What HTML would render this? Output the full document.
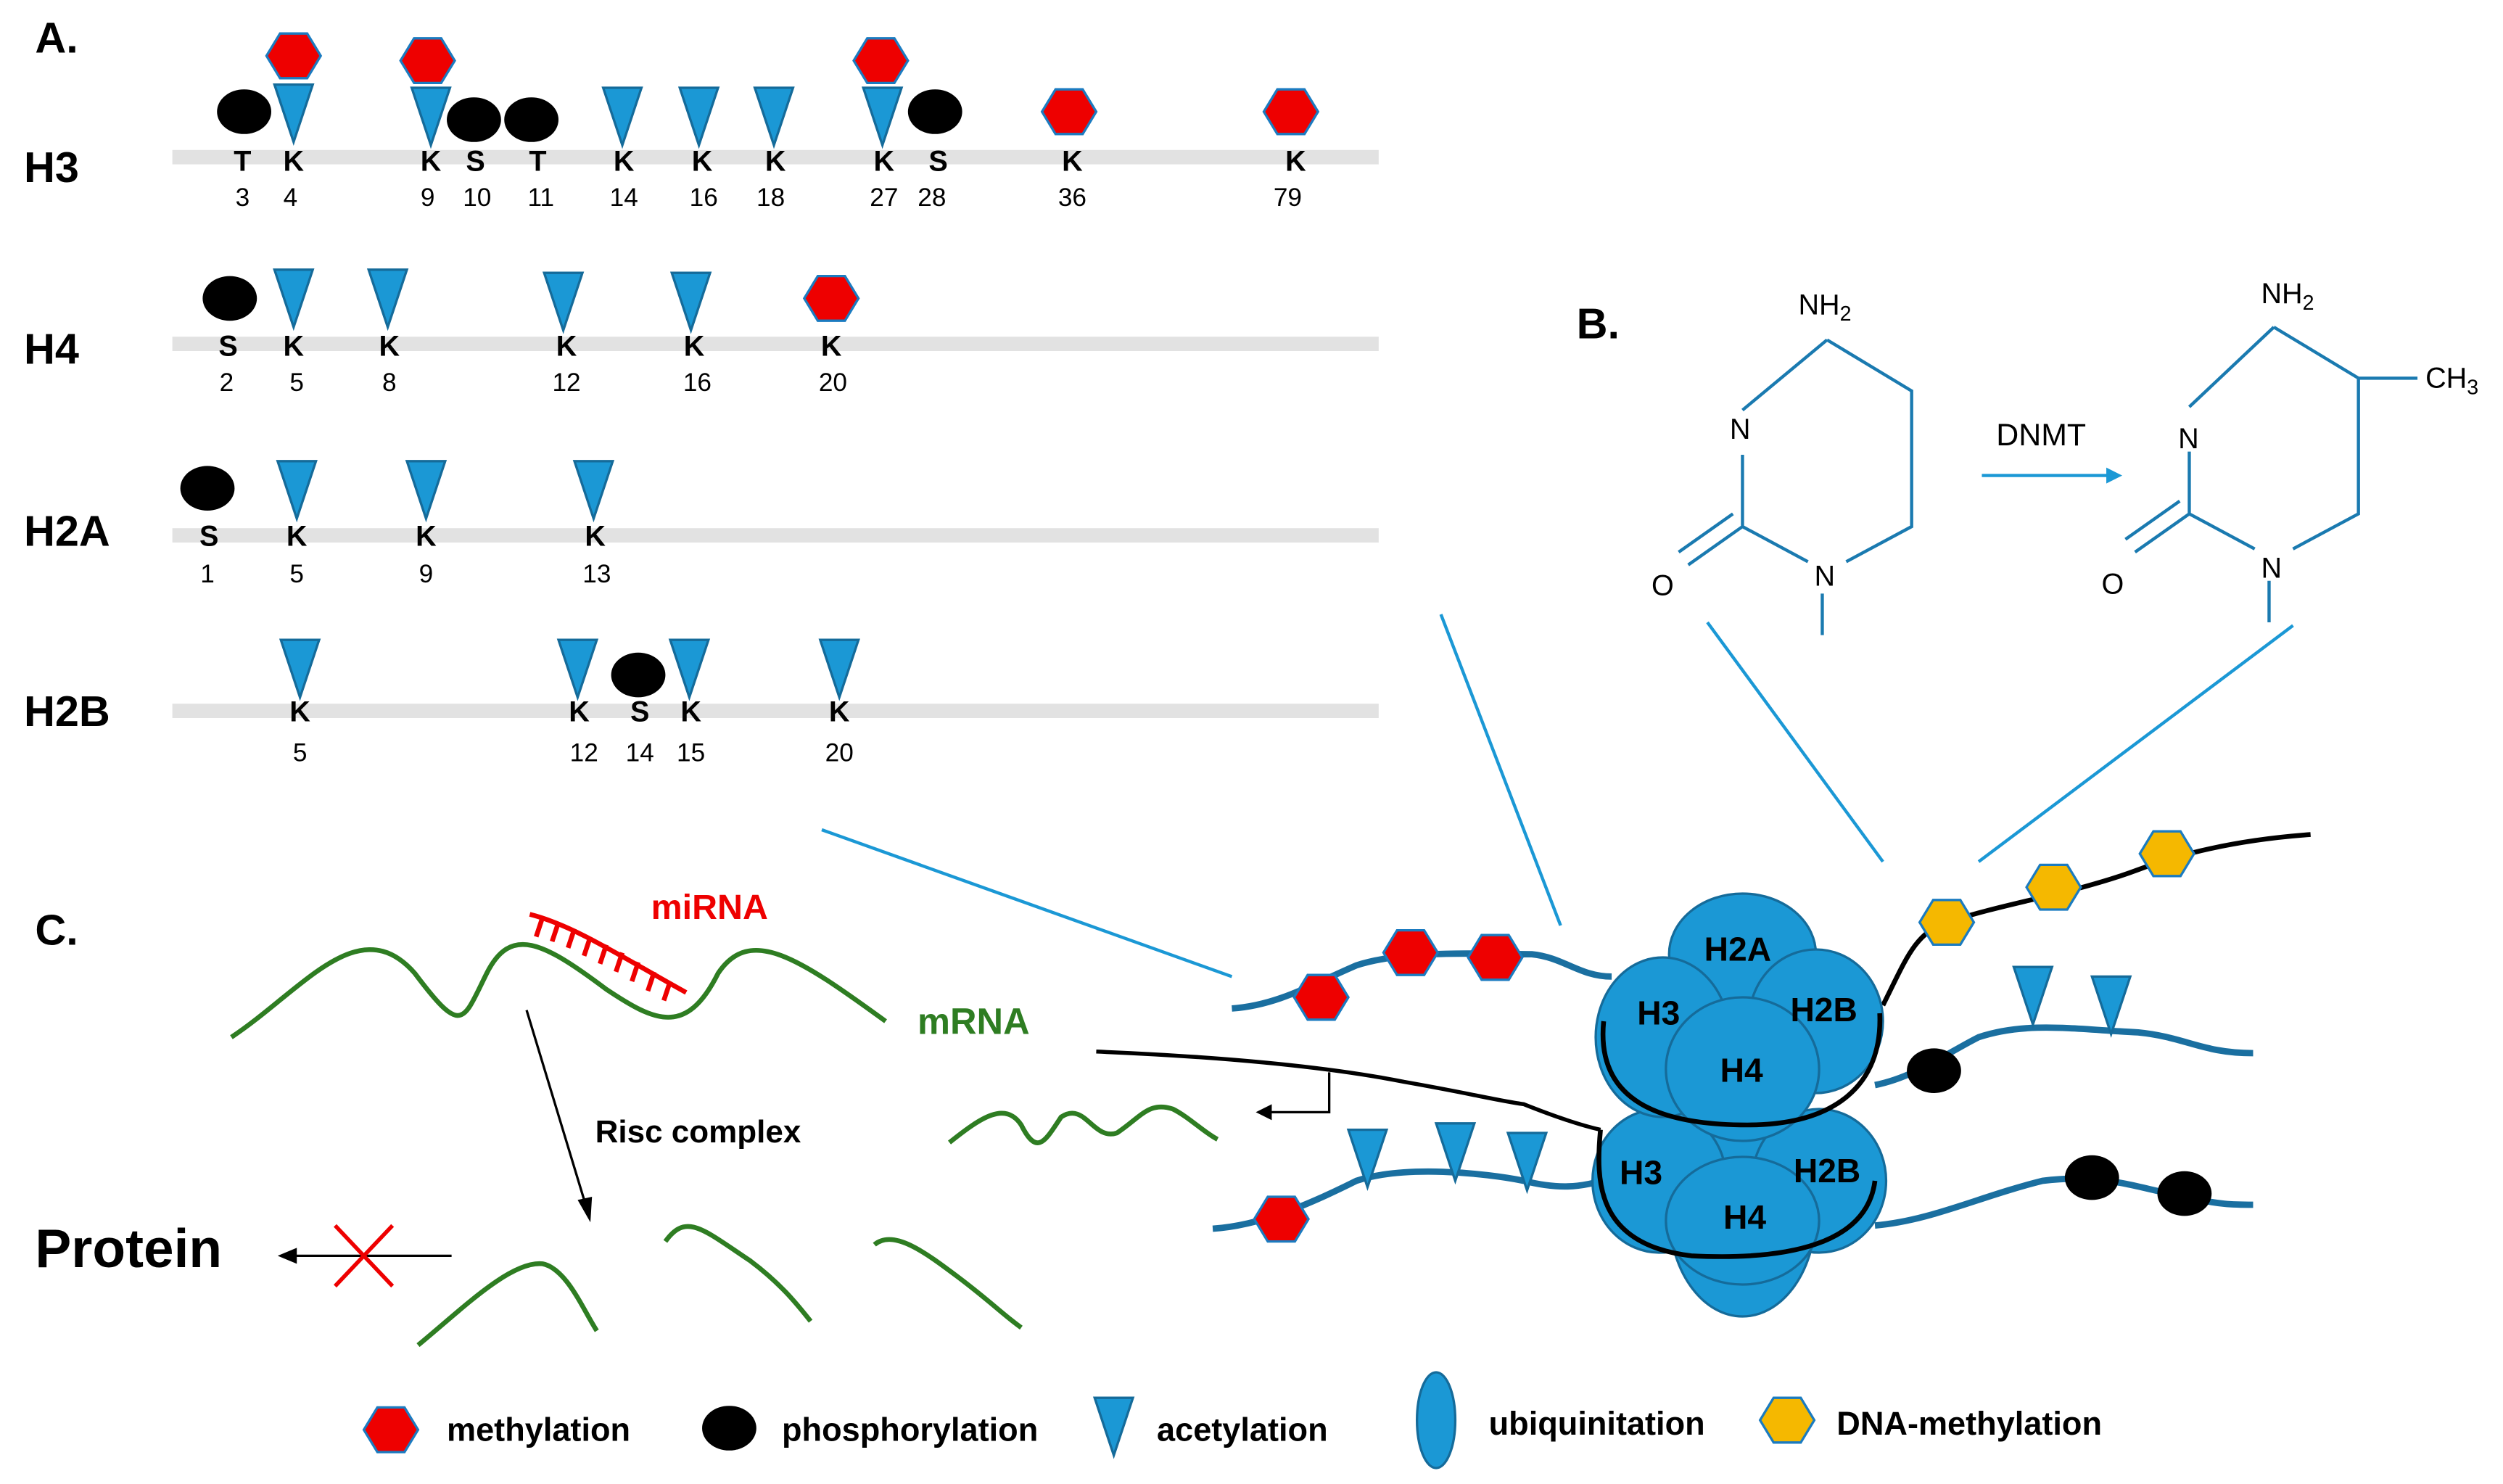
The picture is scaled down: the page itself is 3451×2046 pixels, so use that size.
<!DOCTYPE html>
<html><head><meta charset="utf-8"><style>
html,body{margin:0;padding:0;background:#fff;}
svg{display:block}
text{font-family:"Liberation Sans",Arial,sans-serif;}
</style></head><body>
<svg width="3451" height="2046" viewBox="0 0 1568.6 930" preserveAspectRatio="none" xmlns="http://www.w3.org/2000/svg">
<defs>
<polygon id="hx" points="-17,0 -8.5,-14 8.5,-14 17,0 8.5,14 -8.5,14" fill="#ee0000" stroke="#1b7bc0" stroke-width="1.5"/>
<polygon id="hy" points="-17,0 -8.5,-14 8.5,-14 17,0 8.5,14 -8.5,14" fill="#f5b800" stroke="#1b7bc0" stroke-width="1.5"/>
<polygon id="tr" points="-12,0 12,0 0,36" fill="#1b98d5" stroke="#156b9a" stroke-width="1.5"/>
<ellipse id="el" rx="17" ry="14" fill="#000"/>
</defs>
<rect width="1568.6" height="930" fill="#fff"/>
<g font-weight="bold">
<text x="22" y="33" font-size="27">A.</text>
<text x="15" y="114" font-size="27">H3</text>
<text x="15" y="228" font-size="27">H4</text>
<text x="15" y="342" font-size="27">H2A</text>
<text x="15" y="455" font-size="27">H2B</text>
<text x="988" y="212" font-size="27">B.</text>
<text x="22" y="592" font-size="27">C.</text>
</g>
<g fill="#e2e2e2">
<rect x="108" y="94" width="756" height="9"/>
<rect x="108" y="211" width="756" height="9"/>
<rect x="108" y="331" width="756" height="9"/>
<rect x="108" y="441" width="756" height="9"/>
</g>
<g font-size="18" text-anchor="middle" font-weight="bold">
<text x="152" y="107">T</text><text x="184" y="107">K</text><text x="270" y="107">K</text><text x="298" y="107">S</text><text x="337" y="107">T</text><text x="391" y="107">K</text><text x="440" y="107">K</text><text x="486" y="107">K</text><text x="554" y="107">K</text><text x="588" y="107">S</text><text x="672" y="107">K</text><text x="812" y="107">K</text>
<text x="143" y="223">S</text><text x="184" y="223">K</text><text x="244" y="223">K</text><text x="355" y="223">K</text><text x="435" y="223">K</text><text x="521" y="223">K</text>
<text x="131" y="342">S</text><text x="186" y="342">K</text><text x="267" y="342">K</text><text x="373" y="342">K</text>
<text x="188" y="452">K</text><text x="363" y="452">K</text><text x="401" y="452">S</text><text x="433" y="452">K</text><text x="526" y="452">K</text>
</g>
<g font-size="16" text-anchor="middle">
<text x="152" y="129">3</text><text x="182" y="129">4</text><text x="268" y="129">9</text><text x="299" y="129">10</text><text x="339" y="129">11</text><text x="391" y="129">14</text><text x="441" y="129">16</text><text x="483" y="129">18</text><text x="554" y="129">27</text><text x="584" y="129">28</text><text x="672" y="129">36</text><text x="807" y="129">79</text>
<text x="142" y="245">2</text><text x="186" y="245">5</text><text x="244" y="245">8</text><text x="355" y="245">12</text><text x="437" y="245">16</text><text x="522" y="245">20</text>
<text x="130" y="365">1</text><text x="186" y="365">5</text><text x="267" y="365">9</text><text x="374" y="365">13</text>
<text x="188" y="477">5</text><text x="366" y="477">12</text><text x="401" y="477">14</text><text x="433" y="477">15</text><text x="526" y="477">20</text>
</g>
<use href="#el" x="153" y="70"/><use href="#tr" x="184" y="53"/><use href="#hx" x="184" y="35"/>
<use href="#tr" x="270" y="55"/><use href="#hx" x="268" y="38"/>
<use href="#el" x="297" y="75"/><use href="#el" x="333" y="75"/>
<use href="#tr" x="390" y="55"/><use href="#tr" x="438" y="55"/><use href="#tr" x="485" y="55"/><use href="#tr" x="553" y="55"/>
<use href="#hx" x="552" y="38"/><use href="#el" x="586" y="70"/>
<use href="#hx" x="670" y="70"/><use href="#hx" x="809" y="70"/>
<use href="#el" x="144" y="187"/><use href="#tr" x="184" y="169"/><use href="#tr" x="243" y="169"/><use href="#tr" x="353" y="171"/><use href="#tr" x="433" y="171"/><use href="#hx" x="521" y="187"/>
<use href="#el" x="130" y="306"/><use href="#tr" x="186" y="289"/><use href="#tr" x="267" y="289"/><use href="#tr" x="372" y="289"/>
<use href="#tr" x="188" y="401"/><use href="#tr" x="362" y="401"/><use href="#el" x="400" y="423"/><use href="#tr" x="432" y="401"/><use href="#tr" x="526" y="401"/>
<g stroke="#1a7ab0" stroke-width="2" fill="none">
<path d="M1145,213 L1198,245 L1198,330 L1157,352 M1133,352 L1092,330 L1092,285 M1092,257 L1145,213 M1092,330 L1058,354 M1086,322 L1052,346 M1142,372 L1142,398"/>
<path d="M1425,205 L1478,237 L1478,322 L1437,344 M1413,344 L1372,322 L1372,283 M1372,255 L1425,205 M1372,322 L1338,346 M1366,314 L1332,338 M1422,364 L1422,390 M1478,237 L1515,237"/>
</g>
<line x1="1242" y1="298" x2="1322" y2="298" stroke="#1b98d5" stroke-width="2"/>
<polygon points="1330,298 1320,293 1320,303" fill="#1b98d5"/>
<g font-size="18">
<text x="1127" y="197">NH<tspan font-size="13" dy="4">2</tspan></text>
<text x="1084" y="275">N</text><text x="1137" y="367">N</text><text x="1035" y="373">O</text>
<text x="1251" y="279" font-size="19.5">DNMT</text>
<text x="1417" y="190">NH<tspan font-size="13" dy="4">2</tspan></text>
<text x="1520" y="243">CH<tspan font-size="13" dy="4">3</tspan></text>
<text x="1365" y="281">N</text><text x="1417" y="362">N</text><text x="1317" y="372">O</text>
</g>
<g stroke="#1b98d5" stroke-width="2">
<line x1="903" y1="385" x2="978" y2="580"/><line x1="1070" y1="390" x2="1180" y2="540"/><line x1="1437" y1="392" x2="1240" y2="540"/><line x1="515" y1="520" x2="772" y2="612"/>
</g>
<g stroke="#2e7d22" stroke-width="3" fill="none">
<path d="M145,650 C190,620 225,570 260,610 C290,650 290,640 305,610 C320,580 340,590 380,620 C410,640 430,650 450,610 C470,580 500,600 555,640"/>
<path d="M595,716 C615,700 630,690 640,705 C650,725 655,715 665,700 C680,690 685,715 700,710 C715,700 720,690 735,695 C745,700 755,710 763,714"/>
<path d="M262,843 C290,820 320,790 340,792 C355,795 365,820 374,834"/>
<path d="M417,778 C430,760 440,770 470,790 C490,805 500,818 508,828"/>
<path d="M548,780 C560,770 580,785 600,800 C620,815 630,825 640,832"/>
</g>
<g stroke="#ee0000" stroke-width="3" fill="none">
<path d="M332,573 C360,580 390,600 430,622"/>
<path d="M340,575 l-4,12 M350,578 l-4,12 M360,582 l-4,12 M370,587 l-4,12 M380,592 l-4,12 M390,597 l-4,12 M400,603 l-4,12 M410,609 l-4,12 M420,615 l-4,12"/>
</g>
<text x="408" y="576" font-size="22" font-weight="bold" fill="#ee0000">miRNA</text>
<text x="575" y="648" font-size="23" font-weight="bold" fill="#2e7d22">mRNA</text>
<line x1="330" y1="633" x2="367" y2="755" stroke="#000" stroke-width="1.5"/>
<polygon points="370,766 362,752 371,750" fill="#000"/>
<text x="373" y="716" font-size="20" font-weight="bold">Risc complex</text>
<text x="22" y="794" font-size="34" font-weight="bold">Protein</text>
<line x1="283" y1="787" x2="183" y2="787" stroke="#000" stroke-width="1.5"/>
<polygon points="174,787 186,782 186,792" fill="#000"/>
<path d="M210,768 L246,806 M246,768 L210,806" stroke="#ee0000" stroke-width="2.5"/>
<path d="M833,672 L833,697 L795,697" stroke="#000" stroke-width="1.5" fill="none"/>
<polygon points="787,697 797,692 797,702" fill="#000"/>
<g stroke="#1a6fa0" stroke-width="4" fill="none">
<path d="M772,632 C800,630 820,618 850,605 C880,595 930,598 960,598 C980,600 990,612 1010,612"/>
<path d="M1175,680 C1200,675 1220,660 1240,650 C1270,640 1300,645 1340,647 C1370,650 1380,660 1412,660"/>
<path d="M760,770 C790,768 820,755 850,740 C880,730 930,735 955,740 C975,745 990,745 1010,738"/>
<path d="M1175,768 C1210,765 1240,750 1280,740 C1320,735 1340,745 1370,750 C1390,755 1400,755 1412,755"/>
</g>
<path d="M1180,630 C1195,600 1200,585 1220,578 C1260,565 1300,560 1340,545 C1380,530 1420,525 1448,523" stroke="#000" stroke-width="3" fill="none"/>
<path d="M687,659 C760,662 830,668 880,678 C920,685 940,690 955,692 C975,700 990,705 1003,708" stroke="#000" stroke-width="2.5" fill="none"/>
<g fill="#1b98d5" stroke="#156b9a" stroke-width="1.5">
<ellipse cx="1092" cy="760" rx="46" ry="65"/>
<ellipse cx="1040" cy="740" rx="42" ry="45"/><ellipse cx="1140" cy="740" rx="42" ry="45"/>
<ellipse cx="1092" cy="598" rx="46" ry="38"/>
<ellipse cx="1042" cy="650" rx="42" ry="50"/><ellipse cx="1138" cy="640" rx="42" ry="45"/>
<ellipse cx="1092" cy="670" rx="48" ry="45"/>
<ellipse cx="1092" cy="765" rx="48" ry="40"/>
</g>
<g stroke="#000" stroke-width="3" fill="none">
<path d="M1005,640 C1000,690 1040,705 1095,705 C1150,705 1180,680 1178,635"/>
<path d="M1003,708 C1000,740 1000,780 1060,787 C1120,790 1170,780 1175,740"/>
</g>
<g font-size="21" font-weight="bold" fill="#000">
<text x="1068" y="602">H2A</text><text x="1026" y="642">H3</text><text x="1122" y="640">H2B</text><text x="1078" y="678">H4</text>
<text x="1015" y="742">H3</text><text x="1124" y="741">H2B</text><text x="1080" y="770">H4</text>
</g>
<use href="#hx" x="828" y="625"/><use href="#hx" x="884" y="597"/><use href="#hx" x="937" y="600"/>
<use href="#hx" x="803" y="764"/>
<use href="#tr" x="857" y="708"/><use href="#tr" x="912" y="704"/><use href="#tr" x="957" y="710"/>
<use href="#tr" x="1274" y="606"/><use href="#tr" x="1323" y="612"/>
<use href="#el" x="1212" y="671"/><use href="#el" x="1311" y="738"/><use href="#el" x="1369" y="748"/>
<use href="#hy" x="1220" y="578"/><use href="#hy" x="1287" y="556"/><use href="#hy" x="1358" y="535"/>
<use href="#hx" x="245" y="896"/><text x="280" y="903" font-size="20.5" font-weight="bold">methylation</text>
<use href="#el" x="457" y="895"/><text x="490" y="903" font-size="20.5" font-weight="bold">phosphorylation</text>
<use href="#tr" x="698" y="876"/><text x="725" y="903" font-size="20.5" font-weight="bold">acetylation</text>
<ellipse cx="900" cy="890" rx="12" ry="30" fill="#1b98d5" stroke="#156b9a" stroke-width="1.5"/><text x="933" y="899" font-size="20.5" font-weight="bold">ubiquinitation</text>
<use href="#hy" x="1120" y="890"/><text x="1151" y="899" font-size="20.5" font-weight="bold">DNA-methylation</text>
</svg>
</body></html>
